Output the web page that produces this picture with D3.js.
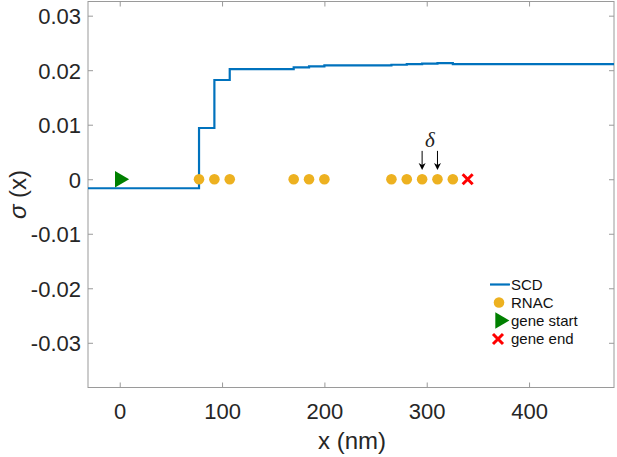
<!DOCTYPE html>
<html><head><meta charset="utf-8">
<script src="https://cdn.jsdelivr.net/npm/d3@7"></script>
<style>body{margin:0;background:#fff}svg{display:block}</style>
</head><body><svg id="c" width="617" height="457"></svg>
<script>
// ---- data ----
const stepEdges  = [-31, 77.5, 92.5, 107.5, 170, 185, 200, 265.5, 280.5, 295.5, 310.5, 325.5, 483];
const stepValues = [-0.00165, 0.0094, 0.0182, 0.0202, 0.0205, 0.0207, 0.0209, 0.0210, 0.0211, 0.0212, 0.0213, 0.0211];
const rnacX = [77.5, 92.5, 107.5, 170, 185, 200, 265.5, 280.5, 295.5, 310.5, 325.5];
const rnacY = [0,0,0,0,0,0,0,0,0,0,0];
const geneStartX = [0];
const geneEndX = [340];
const deltaArrowX = [295.5, 310.5];
const deltaLabelX = [303];
const xTicks = [0, 100, 200, 300, 400];
const yTicks = [-0.03, -0.02, -0.01, 0, 0.01, 0.02, 0.03];
const legendLabels = ["SCD", "RNAC", "gene start", "gene end"];

// ---- layout ----
const L = 88, R = 614, T = 1.5, B = 387.5;
const x = d3.scaleLinear().domain([-31, 483]).range([L, R]);
const y = d3.scaleLinear().domain([-0.0382, 0.0326]).range([B, T]);
const svg = d3.select("#c");
const font = "'Liberation Sans', Arial, Helvetica, sans-serif";
const axisCol = "#9a9a9a", textCol = "#262626";
const cBlue = "#0072BD", cGold = "#EDB120", cGreen = "#008000", cRed = "#FF0000";

svg.append("defs").append("clipPath").attr("id","clip")
  .append("rect").attr("x",L).attr("y",T).attr("width",R-L).attr("height",B-T);

// box
svg.append("rect").attr("x",L).attr("y",T).attr("width",R-L).attr("height",B-T)
  .attr("fill","none").attr("stroke",axisCol).attr("stroke-width",1);

// axes via d3 axis
const tl = 5;
const gx = svg.append("g").attr("transform",`translate(0,${B})`)
  .call(d3.axisBottom(x).tickValues(xTicks).tickSize(-tl).tickPadding(16).tickFormat(d3.format("d")));
const gxt = svg.append("g").attr("transform",`translate(0,${T})`)
  .call(d3.axisTop(x).tickValues(xTicks).tickSize(-tl).tickFormat(""));
const gy = svg.append("g").attr("transform",`translate(${L},0)`)
  .call(d3.axisLeft(y).tickValues(yTicks).tickSize(-tl).tickPadding(7)
    .tickFormat(d => d===0 ? "0" : d3.format(".2f")(d).replace("\u2212","-")));
const gyr = svg.append("g").attr("transform",`translate(${R},0)`)
  .call(d3.axisRight(y).tickValues(yTicks).tickSize(-tl).tickFormat(""));
[gx,gxt,gy,gyr].forEach(g=>{
  g.select(".domain").remove();
  g.selectAll(".tick line").attr("stroke",axisCol);
  g.selectAll(".tick text").attr("fill",textCol).style("font-family",font).style("font-size","22px");
});
gy.selectAll(".tick text").attr("dy","0.36em");

// axis labels
svg.append("text").attr("x",(L+R)/2+1).attr("y",449).attr("text-anchor","middle")
  .attr("fill",textCol).style("font-family",font).style("font-size","24px").text("x (nm)");
const yl = svg.append("text").attr("transform",`translate(26,${(T+B)/2}) rotate(-90)`)
  .attr("text-anchor","middle").attr("fill",textCol).style("font-family",font).style("font-size","24px");
yl.append("tspan").style("font-style","italic").text("σ");
yl.append("tspan").text(" (x)");

// step line
const pts = stepValues.map((v,i)=>[stepEdges[i], v]);
pts.push([stepEdges[stepEdges.length-1], stepValues[stepValues.length-1]]);
svg.append("path").attr("clip-path","url(#clip)")
  .attr("d", d3.line().x(d=>x(d[0])).y(d=>y(d[1])).curve(d3.curveStepAfter)(pts))
  .attr("fill","none").attr("stroke",cBlue).attr("stroke-width",2.2);

// RNAC dots
svg.append("g").selectAll("circle").data(rnacX).join("circle")
  .attr("cx",d=>x(d)).attr("cy",(d,i)=>y(rnacY[i])).attr("r",5.3).attr("fill",cGold);

// gene start triangle
const tri = d3.symbol().type(d3.symbolTriangle).size(115);
svg.append("g").selectAll("path").data(geneStartX).join("path")
  .attr("d",tri()).attr("transform",d=>`translate(${x(d)},${y(0)}) rotate(90)`).attr("fill",cGreen);

// gene end cross
function cross(g, cx, cy, s){
  g.append("path").attr("d",`M${cx-s},${cy-s}L${cx+s},${cy+s}M${cx-s},${cy+s}L${cx+s},${cy-s}`)
   .attr("stroke",cRed).attr("stroke-width",3).attr("fill","none");
}
geneEndX.forEach(d=>cross(svg, x(d), y(0), 5));

// delta arrows
deltaArrowX.forEach(d=>{
  const ax = x(d), y0 = y(0.0052), y1 = y(0.0017);
  svg.append("line").attr("x1",ax).attr("x2",ax).attr("y1",y0).attr("y2",y1-4)
    .attr("stroke","#000").attr("stroke-width",1);
  svg.append("path").attr("d",`M${ax-3.5},${y1-7}L${ax},${y1}L${ax+3.5},${y1-7}L${ax},${y1-5}Z`).attr("fill","#000");
});
deltaLabelX.forEach(d=>{
  svg.append("text").attr("x",x(d)).attr("y",y(0.0059)).attr("text-anchor","middle")
    .style("font-family","'Liberation Serif','Times New Roman',serif").style("font-style","italic")
    .style("font-size","21px").attr("fill","#222").text("δ");
});

// legend
const lg = svg.append("g").style("font-family",font).style("font-size","15px");
const rowY = [284.5, 302.5, 320.5, 339];
lg.append("line").attr("x1",490).attr("x2",510).attr("y1",rowY[0]).attr("y2",rowY[0]).attr("stroke",cBlue).attr("stroke-width",2.2);
lg.append("circle").attr("cx",499).attr("cy",rowY[1]).attr("r",5.3).attr("fill",cGold);
lg.append("path").attr("d",tri()).attr("transform",`translate(500,${rowY[2]}) rotate(90)`).attr("fill",cGreen);
cross(lg, 498, rowY[3], 5);
legendLabels.forEach((t,i)=>{
  lg.append("text").attr("x",511).attr("y",rowY[i]).attr("dy","0.36em").attr("fill","#111").text(t);
});
</script></body></html>
